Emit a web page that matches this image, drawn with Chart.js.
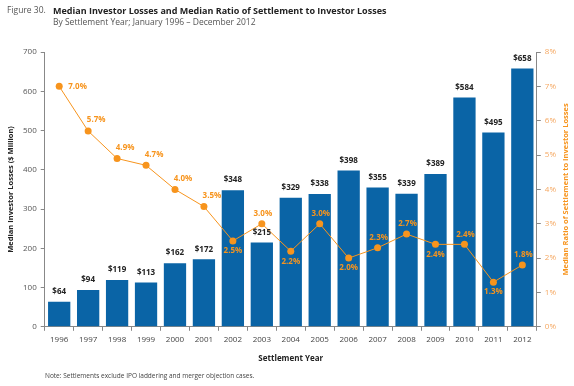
<!DOCTYPE html>
<html>
<head>
    <meta charset="UTF-8">
    <title>Median Investor Losses and Median Ratio of Settlement to Investor Losses</title>
    <script src="https://cdn.jsdelivr.net/npm/chart.js"></script>
    <style>
        body { margin: 0; background: #fff; font-family: "Open Sans", sans-serif; }
        .wrap { position: relative; width: 574px; height: 386px; }
        #chart { position: absolute; left: 0; top: 0; }
        .fig { position: absolute; left: 7px; top: 4px; font-size: 8.5px; color: #555; }
        .title { position: absolute; left: 53px; top: 4px; font-size: 9px; font-weight: bold; color: #222; }
        .sub { position: absolute; left: 53px; top: 16px; font-size: 8.5px; color: #555; }
        .note { position: absolute; left: 45px; top: 371px; font-size: 6.5px; color: #444; }
    </style>
</head>
<body>
<div class="wrap">
    <canvas id="chart" width="574" height="386"></canvas>
    <div class="fig">Figure 30.</div>
    <div class="title">Median Investor Losses and Median Ratio of Settlement to Investor Losses</div>
    <div class="sub">By Settlement Year; January 1996 – December 2012</div>
    <div class="note">Note: Settlements exclude IPO laddering and merger objection cases.</div>
</div>
<script>
    // data
    const years = ['1996', '1997', '1998', '1999', '2000', '2001', '2002', '2003', '2004',
                   '2005', '2006', '2007', '2008', '2009', '2010', '2011', '2012'];
    const losses = [64, 94, 119, 113, 162, 172, 348, 215, 329, 338, 398, 355, 339, 389, 584, 495, 658];
    const ratios = [7.0, 5.7, 4.9, 4.7, 4.0, 3.5, 2.5, 3.0, 2.2, 3.0, 2.0, 2.3, 2.7, 2.4, 2.4, 1.3, 1.8];

    const blue = '#0a64a6';
    const orange = '#f7941d';

    // value labels for bars and line, plus the right axis title (reads bottom to top)
    const labelPlugin = {
        id: 'labels',
        afterDatasetsDraw(chart) {
            const ctx = chart.ctx;
            ctx.save();
            ctx.textAlign = 'center';
            ctx.textBaseline = 'middle';

            ctx.font = 'bold 8px "Open Sans"';
            ctx.fillStyle = '#222';
            chart.getDatasetMeta(0).data.forEach((bar, i) => {
                ctx.fillText('$' + losses[i], bar.x, bar.y - 10);
            });

            ctx.fillStyle = orange;
            chart.getDatasetMeta(1).data.forEach((pt, i) => {
                const txt = ratios[i].toFixed(1) + '%';
                const prev = ratios[i - 1], next = ratios[i + 1];
                if (i === 0) {
                    ctx.textAlign = 'left';
                    ctx.fillText(txt, pt.x + 9, pt.y);
                    ctx.textAlign = 'center';
                } else if (ratios[i] <= prev && (next === undefined || ratios[i] <= next)) {
                    ctx.fillText(txt, pt.x, pt.y + 10);
                } else if (prev > ratios[i]) {
                    ctx.fillText(txt, pt.x + 8, pt.y - 11);
                } else {
                    ctx.fillText(txt, pt.x + 1, pt.y - 10);
                }
            });

            const area = chart.chartArea;
            ctx.translate(566, (area.top + area.bottom) / 2);
            ctx.rotate(-Math.PI / 2);
            ctx.font = 'bold 7.5px "Open Sans"';
            ctx.fillText('Median Ratio of Settlement to Investor Losses', 0, 0);
            ctx.restore();
        }
    };

    Chart.defaults.font.family = '"Open Sans", sans-serif';
    Chart.defaults.font.size = 8;

    new Chart(document.getElementById('chart'), {
        type: 'bar',
        data: {
            labels: years,
            datasets: [{
                label: 'Median Investor Losses',
                data: losses,
                backgroundColor: blue,
                categoryPercentage: 1,
                barPercentage: 0.77,
                yAxisID: 'y',
                order: 2
            }, {
                type: 'line',
                label: 'Median Ratio',
                data: ratios,
                borderColor: orange,
                backgroundColor: orange,
                borderWidth: 1,
                pointRadius: 3.5,
                pointBorderWidth: 0,
                yAxisID: 'y1',
                order: 1
            }]
        },
        options: {
            responsive: false,
            animation: false,
            layout: { padding: { left: 2, right: 14, top: 52, bottom: 18 } },
            plugins: {
                legend: { display: false },
                tooltip: { enabled: false }
            },
            scales: {
                x: {
                    grid: { display: true, drawOnChartArea: false, offset: true, color: '#888', tickLength: 4 },
                    border: { color: '#888' },
                    ticks: { color: '#444', padding: 4, maxRotation: 0 },
                    title: { display: true, text: 'Settlement Year', color: '#222', font: { weight: 'bold', size: 8 }, padding: { top: 6 } }
                },
                y: {
                    position: 'left',
                    min: 0, max: 700,
                    ticks: { stepSize: 100, color: '#555', padding: 4 },
                    grid: { drawOnChartArea: false, color: '#888', tickLength: 4 },
                    border: { color: '#888' },
                    title: { display: true, text: 'Median Investor Losses ($ Million)', color: '#222', font: { weight: 'bold', size: 7.5 }, padding: { bottom: 4 } }
                },
                y1: {
                    position: 'right',
                    min: 0, max: 8,
                    ticks: { stepSize: 1, color: '#f5a862', padding: 4, callback: v => v + '%' },
                    grid: { drawOnChartArea: false, color: '#888', tickLength: 4 },
                    border: { color: '#888' }
                }
            }
        },
        plugins: [labelPlugin]
    });
</script>
</body>
</html>
